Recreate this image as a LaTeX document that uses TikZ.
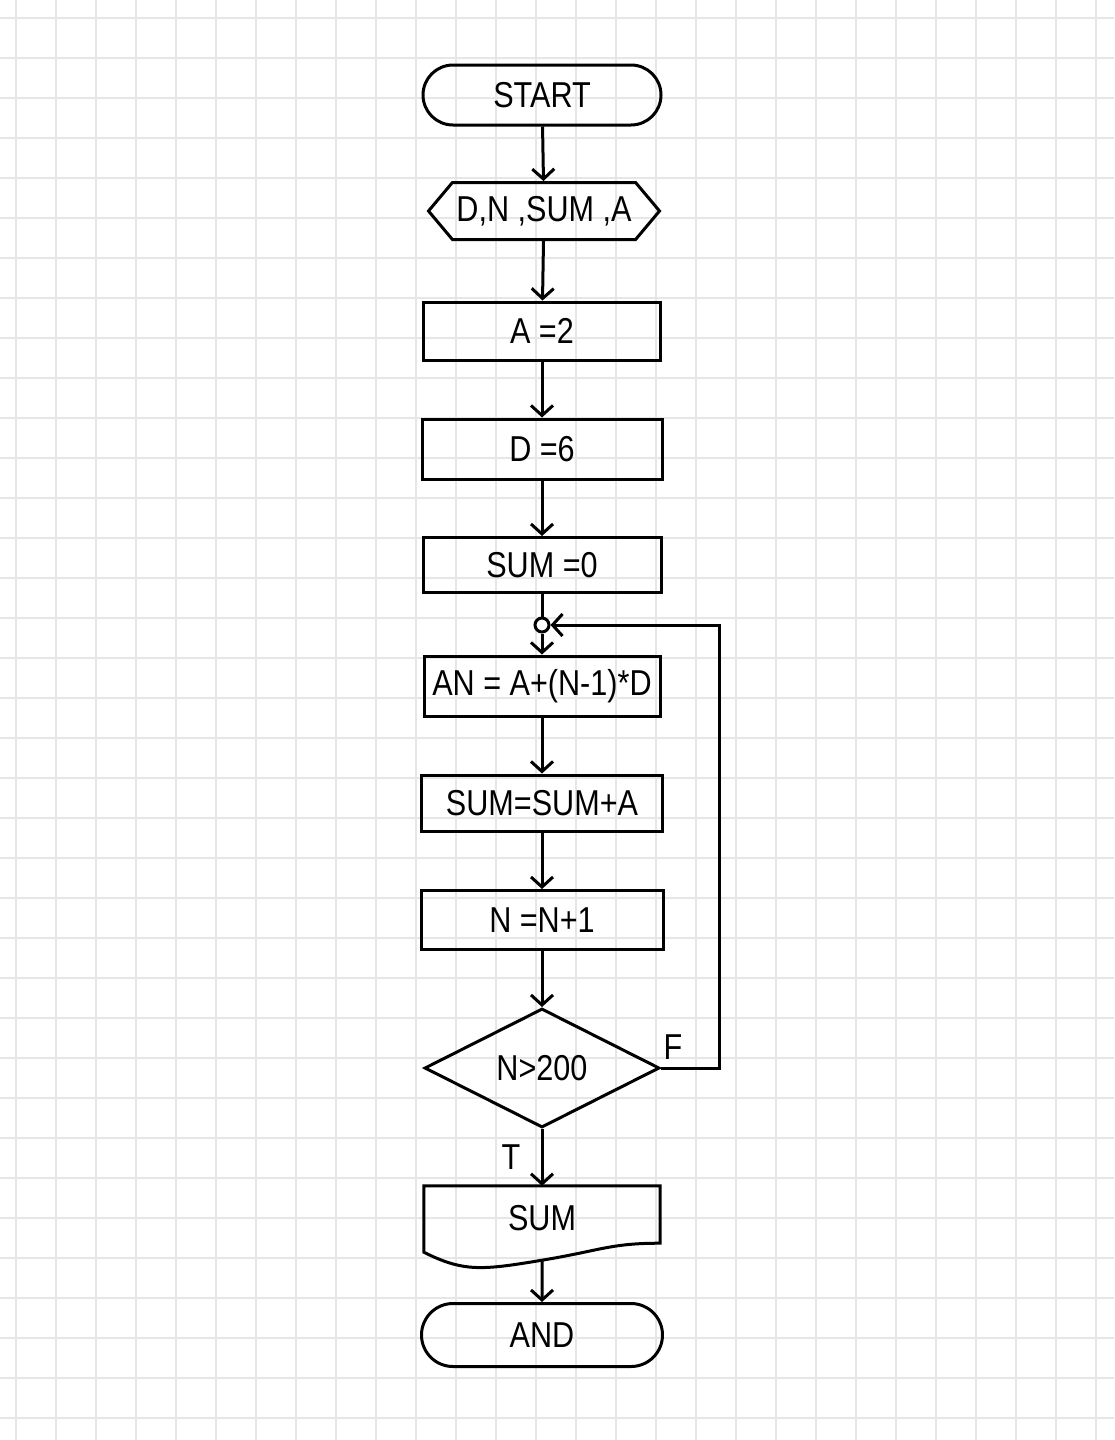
\documentclass[tikz,border=0pt]{standalone}
\usepackage{fontspec}
\usepackage{graphicx}
\setmainfont{Liberation Sans}
\usetikzlibrary{shapes.geometric,shapes.misc,shapes.symbols,arrows.meta,calc}
\definecolor{gridgray}{HTML}{E6E6E6}
\newcommand\hw[1]{\scalebox{0.85}[1]{#1}}
\tikzset{
 base/.style={draw, line width=3pt, inner sep=0pt, font=\fontsize{36}{40}\selectfont},
 term/.style={base, rounded rectangle, minimum width=238pt, minimum height=60pt},
 proc/.style={base, rectangle, minimum width=238pt, minimum height=58pt},
 prepbox/.style={base, signal, signal to=west and east, signal pointer angle=100, minimum width=231pt, minimum height=57pt},
 decbox/.style={base, diamond, minimum width=235pt, minimum height=119pt},
 arr/.style={line width=3pt, -{Straight Barb[length=10pt,width=22pt]}},
 ln/.style={line width=3pt},
 lab/.style={font=\fontsize{36}{40}\selectfont},
 gridline/.style={gridgray, line width=2pt},
}
\begin{document}
\begin{tikzpicture}[x=1pt,y=-1pt]
\fill[white] (0,0) rectangle (1114,1440);
\useasboundingbox (0,0) rectangle (1114,1440);
\foreach \x in {16,56,...,1096} \draw[gridline] (\x,0) -- (\x,1440);
\foreach \y in {18,58,...,1418} \draw[gridline] (0,\y) -- (1114,\y);

\node[term] (start) at (542,95) {\hw{START}};
\node[prepbox] (prep) at (544,211) {\hw{D,N ,SUM ,A}};
\node[proc, minimum width=237pt] (a2) at (542,331) {\hw{A =2}};
\node[proc, minimum width=240pt, minimum height=60pt] (d6) at (542,449) {\hw{D =6}};
\node[proc, minimum height=55pt] (sum0) at (542,565) {\hw{SUM =0}};
\node[circle, draw, line width=3pt, minimum size=14pt, inner sep=0pt] (conn) at (542,625) {};
\node[proc, minimum width=236pt, minimum height=60pt] (an) at (542,686) {\hw{AN = A+(N-1)*D}};
\node[proc, minimum width=241pt, minimum height=56pt] (ss) at (542,803) {\hw{SUM=SUM+A}};
\node[proc, minimum width=242pt, minimum height=59pt] (nn) at (542,920) {\hw{N =N+1}};
\node[decbox] (dec) at (542,1068) {\hw{N>200}};
\node[rectangle, inner sep=0pt, minimum width=236pt, minimum height=64pt, font=\fontsize{36}{40}\selectfont] (out) at (542,1218) {\hw{SUM}};
\draw[ln] ($(out.south west)+(0,2)$) -- (out.north west) -- (out.north east) -- ($(out.south east)+(0,-7)$)
  .. controls +(-50,0) and +(60,-10) .. ($(out.south)+(0,10)$)
  .. controls +(-60,10) and +(40,20) .. ($(out.south west)+(0,2)$) -- cycle;
\coordinate (wv) at ($(out.south)+(0,10)$);
\node[term, minimum width=241pt, minimum height=63pt] (end) at (542,1335) {\hw{AND}};

\node[lab] (F) at (673,1047) {\hw{F}};
\node[lab] (T) at (511,1157) {\hw{T}};

\draw[arr] (start) -- (prep);
\draw[arr] (prep) -- (a2);
\draw[arr] (a2) -- (d6);
\draw[arr] (d6) -- (sum0);
\draw[ln] (sum0) -- (conn);
\draw[arr] (conn) -- (an);
\draw[arr] (an) -- (ss);
\draw[arr] (ss) -- (nn);
\draw[arr] (nn) -- (dec);
\draw[arr] (dec) -- (out);
\draw[arr] (wv) -- (end);
\draw[arr] (dec.east) -- ++(58,0) |- (conn.east);
\end{tikzpicture}
\end{document}
